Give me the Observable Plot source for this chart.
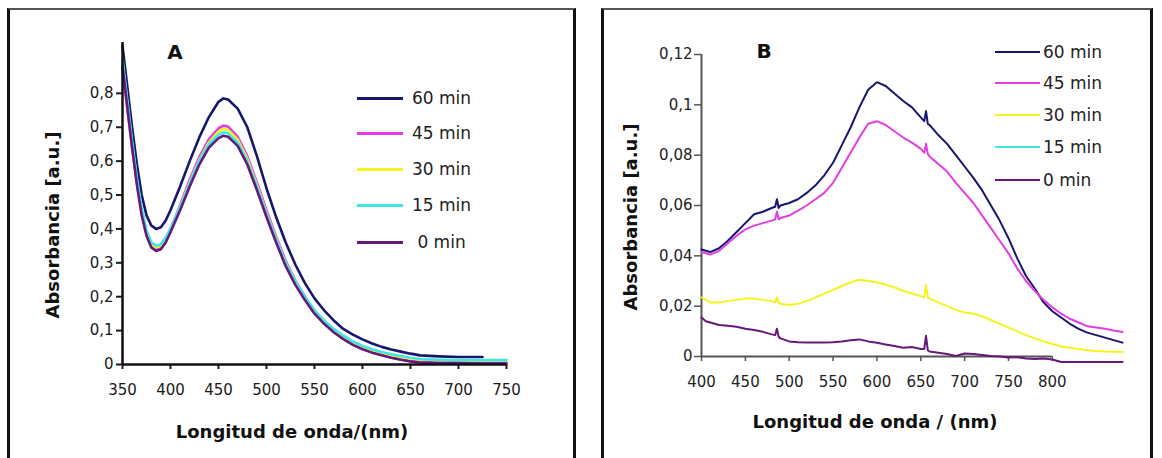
<!DOCTYPE html>
<html><head><meta charset="utf-8">
<script src="https://cdn.jsdelivr.net/npm/d3@7"></script>
<script src="https://cdn.jsdelivr.net/npm/@observablehq/plot@0.6"></script>
<style>
body{margin:0;background:#fff;}
#page{position:relative;width:1162px;height:458px;overflow:hidden;background:#fff;font-family:"DejaVu Sans",sans-serif;}
.abs{position:absolute;}
.frame{position:absolute;box-sizing:border-box;border-left:3px solid #111;border-right:3px solid #111;border-top:2px solid #555;z-index:3;pointer-events:none;}
.title{position:absolute;font-weight:bold;font-size:18px;color:#111;white-space:pre;transform:translate(-50%,-50%);line-height:1;}
.ytitle{transform:translate(-50%,-50%) rotate(-90deg);}
.panel{position:absolute;font-weight:bold;font-size:20px;color:#111;transform:translate(-50%,-50%);line-height:1;}
.leg{position:absolute;display:flex;align-items:center;font-size:17px;color:#222;white-space:pre;height:20px;line-height:20px;}
.leg .ln{display:inline-block;}
</style></head>
<body><div id="page">
<div id="chartA" class="abs" style="left:0;top:0"></div>
<div id="chartB" class="abs" style="left:580px;top:0"></div>
<div class="frame" style="left:7px;top:8px;width:569px;height:470px;"></div>
<div class="frame" style="left:601px;top:8px;width:552px;height:470px;"></div>
<div class="panel" style="left:175px;top:52px;">A</div>
<div class="panel" style="left:764px;top:51px;">B</div>
<div class="title" style="left:292px;top:432px;">Longitud de onda/(nm)</div>
<div class="title" style="left:875px;top:422px;">Longitud de onda / (nm)</div>
<div class="title ytitle" style="left:53px;top:225px;">Absorbancia [a.u.]</div>
<div class="title ytitle" style="left:631px;top:217px;">Absorbancia [a.u.]</div>
<div id="legA"></div>
<div id="legB"></div>
</div>
<script>
// ---- shared ----
const seriesNames = ["60 min", "45 min", "30 min", "15 min", "0 min"];
const seriesColors = ["#16166e", "#e23ee2", "#f4f41e", "#3ee6e6", "#66197a"];

// ---- Panel A ----
const xTicksA = [350, 400, 450, 500, 550, 600, 650, 700, 750];
const yTicksA = [0, 0.1, 0.2, 0.3, 0.4, 0.5, 0.6, 0.7, 0.8];
const wlA = [350,355,360,365,370,375,380,385,390,395,400,410,420,430,440,450,455,460,470,480,490,500,510,520,530,540,550,560,570,580,590,600,610,620,630,640,650,660,680,700,725,750];
const a60 = [0.94,0.82,0.70,0.59,0.50,0.44,0.41,0.40,0.405,0.425,0.455,0.525,0.60,0.67,0.73,0.775,0.785,0.782,0.755,0.70,0.615,0.52,0.435,0.36,0.295,0.24,0.195,0.16,0.13,0.105,0.088,0.074,0.062,0.052,0.044,0.038,0.032,0.027,0.024,0.022,0.022,null];
const a45 = [0.87,0.755,0.64,0.535,0.445,0.385,0.35,0.34,0.347,0.37,0.40,0.47,0.545,0.612,0.665,0.697,0.705,0.702,0.672,0.615,0.537,0.455,0.378,0.306,0.248,0.20,0.158,0.126,0.10,0.079,0.062,0.048,0.037,0.028,0.021,0.015,0.010,0.007,0.005,0.005,0.005,0.005];
const a30 = [0.89,0.77,0.65,0.54,0.45,0.39,0.355,0.345,0.35,0.37,0.398,0.465,0.537,0.603,0.655,0.687,0.695,0.692,0.663,0.607,0.53,0.448,0.372,0.301,0.245,0.198,0.158,0.127,0.102,0.082,0.065,0.052,0.042,0.034,0.027,0.022,0.018,0.015,0.013,0.012,0.012,0.012];
const a15 = [0.90,0.78,0.66,0.55,0.46,0.395,0.36,0.35,0.355,0.375,0.40,0.465,0.535,0.60,0.65,0.678,0.685,0.682,0.655,0.60,0.525,0.445,0.37,0.30,0.245,0.20,0.16,0.13,0.105,0.085,0.068,0.055,0.045,0.037,0.030,0.025,0.020,0.016,0.014,0.013,0.013,0.013];
const a0 = [0.88,0.76,0.64,0.53,0.44,0.38,0.345,0.335,0.34,0.36,0.39,0.455,0.525,0.59,0.64,0.668,0.675,0.672,0.645,0.59,0.515,0.435,0.36,0.29,0.235,0.19,0.15,0.12,0.095,0.075,0.058,0.045,0.035,0.027,0.020,0.014,0.009,0.006,0.004,0.004,0.003,0.003];

// ---- Panel B ----
const xTicksB = [400, 450, 500, 550, 600, 650, 700, 750, 800];
const yTicksB = [0, 0.02, 0.04, 0.06, 0.08, 0.1, 0.12];
const wlB = [400,405,410,420,430,440,450,460,470,480,484,486,488,490,500,510,520,530,540,550,560,570,580,590,600,610,620,630,640,650,654,656,658,660,670,680,690,700,710,720,730,740,750,760,770,780,790,800,810,820,830,840,850,860,870,880];
const b60 = [0.0425,0.042,0.0415,0.043,0.046,0.0495,0.053,0.0565,0.0575,0.059,0.0595,0.0625,0.059,0.060,0.061,0.0625,0.065,0.068,0.072,0.077,0.084,0.091,0.099,0.106,0.109,0.1075,0.1045,0.1015,0.099,0.095,0.0935,0.0975,0.0925,0.092,0.088,0.0845,0.080,0.0755,0.071,0.066,0.060,0.054,0.047,0.039,0.032,0.027,0.0215,0.018,0.0155,0.013,0.011,0.0095,0.0085,0.0075,0.0065,0.0055];
const b45 = [0.0415,0.041,0.0405,0.042,0.045,0.048,0.0505,0.052,0.053,0.054,0.0545,0.0575,0.0545,0.055,0.056,0.058,0.060,0.0625,0.065,0.069,0.075,0.081,0.087,0.0925,0.0935,0.092,0.0895,0.087,0.085,0.0825,0.081,0.0845,0.0805,0.0795,0.0765,0.0735,0.069,0.065,0.061,0.056,0.051,0.046,0.041,0.035,0.030,0.026,0.0225,0.0195,0.017,0.015,0.0135,0.012,0.0115,0.011,0.0103,0.0097];
const b30 = [0.0235,0.0225,0.0215,0.0215,0.022,0.0225,0.023,0.023,0.0225,0.022,0.0215,0.0235,0.0215,0.021,0.0205,0.021,0.022,0.0235,0.025,0.0265,0.028,0.0295,0.0305,0.030,0.0295,0.0285,0.0275,0.026,0.025,0.024,0.0235,0.0285,0.0235,0.023,0.0215,0.020,0.0185,0.0175,0.017,0.016,0.0145,0.013,0.0115,0.010,0.0085,0.0072,0.006,0.005,0.004,0.0035,0.003,0.0025,0.0022,0.002,0.0019,0.0018];
const b15 = [];
const b0 = [0.0155,0.014,0.0135,0.0125,0.0122,0.0118,0.011,0.0105,0.0098,0.0088,0.0085,0.011,0.0078,0.0072,0.006,0.0057,0.0056,0.0056,0.0056,0.0057,0.006,0.0065,0.0068,0.006,0.0055,0.0048,0.0042,0.0035,0.0038,0.003,0.003,0.0082,0.0025,0.002,0.0015,0.001,0.0002,0.0012,0.001,0.0006,0.0002,0.0,-0.0004,-0.0003,-0.0008,-0.001,-0.0008,-0.0012,-0.0022,-0.0022,-0.0022,-0.0022,-0.0022,-0.0022,-0.0022,-0.0022];

function fmt(d) { return String(d).replace(".", ","); }
function toRows(wl, vals) {
  const out = [];
  seriesNames.forEach((n, i) => {
    (vals[i] || []).forEach((v, j) => { if (v != null) out.push({s: n, wl: wl[j], v}); });
  });
  return out;
}
const dataA = toRows(wlA, [a60, a45, a30, a15, a0]);
const dataB = toRows(wlB, [b60, b45, b30, b15, b0]);

const chartA = Plot.plot({
  width: 580, height: 458,
  marginLeft: 122, marginRight: 74, marginTop: 42, marginBottom: 94,
  style: {background: "transparent", fontFamily: "DejaVu Sans", fontSize: "15px", color: "#1a1a1a"},
  x: {domain: [xTicksA[0], xTicksA[xTicksA.length - 1]]},
  y: {domain: [0, 0.95]},
  color: {domain: seriesNames, range: seriesColors},
  marks: [
    Plot.axisX({ticks: xTicksA, tickSize: 5, tickPadding: 15, tickFormat: d => String(d), label: null, strokeWidth: 2}),
    Plot.axisY({ticks: yTicksA, tickSize: 6, tickPadding: 3, tickFormat: fmt, label: null, strokeWidth: 2}),
    Plot.line(dataA, {x: "wl", y: "v", z: "s", stroke: "s", strokeWidth: 2.6}),
    Plot.ruleY([0], {x1: xTicksA[0], x2: xTicksA[xTicksA.length - 1], stroke: "#111", strokeWidth: 2.5}),
    Plot.ruleX([xTicksA[0]], {y1: 0, y2: 0.95, stroke: "#111", strokeWidth: 2.5})
  ]
});
document.getElementById("chartA").appendChild(chartA);

const chartB = Plot.plot({
  width: 582, height: 458,
  marginLeft: 121, marginRight: 40, marginTop: 54, marginBottom: 102,
  style: {background: "transparent", fontFamily: "DejaVu Sans", fontSize: "15px", color: "#222"},
  x: {domain: [400, 880]},
  y: {domain: [0, 0.12]},
  color: {domain: seriesNames, range: seriesColors},
  marks: [
    Plot.axisX({ticks: xTicksB, tickSize: 5, tickPadding: 15, tickFormat: d => String(d), label: null, stroke: "#555", strokeWidth: 1.5}),
    Plot.axisY({ticks: yTicksB, tickSize: 7, tickPadding: 2, tickFormat: fmt, label: null, stroke: "#555", strokeWidth: 1.5}),
    Plot.ruleY([0], {x1: xTicksB[0], x2: xTicksB[xTicksB.length - 1], stroke: "#555", strokeWidth: 2}),
    Plot.ruleX([xTicksB[0]], {y1: 0, y2: yTicksB[yTicksB.length - 1], stroke: "#555", strokeWidth: 2}),
    Plot.line(dataB, {x: "wl", y: "v", z: "s", stroke: "s", strokeWidth: 2})
  ]
});
document.getElementById("chartB").appendChild(chartB);

// legends (HTML)
function legend(el, left, rowsY, lineW, gap, thick, texts) {
  seriesNames.forEach((n, i) => {
    const row = document.createElement("div");
    row.className = "leg";
    row.style.left = left + "px";
    row.style.top = (rowsY[i] - 10) + "px";
    const ln = document.createElement("span");
    ln.className = "ln";
    ln.style.width = lineW + "px";
    ln.style.height = thick + "px";
    ln.style.background = seriesColors[i];
    ln.style.marginRight = gap + "px";
    const tx = document.createElement("span");
    tx.textContent = texts[i];
    row.appendChild(ln); row.appendChild(tx);
    el.appendChild(row);
  });
}
const legRowsA = [98, 133, 169, 205, 242];
const legRowsB = [52, 83, 115, 147, 180];
legend(document.getElementById("legA"), 357, legRowsA, 46, 9, 3, ["60 min", "45 min", "30 min", "15 min", " 0 min"]);
legend(document.getElementById("legB"), 995, legRowsB, 45, 3, 2, seriesNames);
</script>
</body></html>
